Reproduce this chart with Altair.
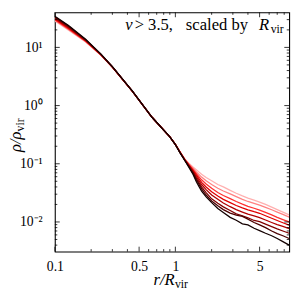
import altair as alt
import pandas as pd

# radii r/R_vir
r_vals = [0.1, 0.13, 0.18, 0.24, 0.3, 0.44, 0.64, 0.9, 1.0, 1.1, 1.2,
          1.3, 1.4, 1.5, 1.65, 1.8, 2.0, 2.25, 2.5, 2.85, 3.2, 3.6, 4.0, 4.5,
          5.0, 5.6, 6.3, 7.0, 7.8, 8.8]

# density profiles rho/rho_vir, lightest (c0) to darkest (c7)
rho_c0 = [28.4, 19.8, 12.4, 7.40, 4.55, 1.75, 0.63, 0.29, 0.216, 0.157, 0.120,
          0.101, 0.088, 0.078, 0.066, 0.058, 0.051, 0.044, 0.040, 0.0350, 0.0312,
          0.0280, 0.0257, 0.0237, 0.0220, 0.0200, 0.0180, 0.0163, 0.0148, 0.0132]
rho_c1 = [29.2, 20.3, 12.6, 7.45, 4.57, 1.75, 0.63, 0.29, 0.216, 0.156, 0.119,
          0.098, 0.084, 0.072, 0.059, 0.051, 0.044, 0.038, 0.034, 0.0303, 0.0272,
          0.0245, 0.0225, 0.0208, 0.0194, 0.0178, 0.0162, 0.0148, 0.0135, 0.0121]
rho_c2 = [30.0, 20.8, 12.8, 7.50, 4.59, 1.76, 0.63, 0.29, 0.215, 0.155, 0.118,
          0.096, 0.080, 0.067, 0.053, 0.045, 0.038, 0.032, 0.0285, 0.0252, 0.0225,
          0.0202, 0.0186, 0.0172, 0.0160, 0.0146, 0.0132, 0.0120, 0.0110, 0.0100]
rho_c3 = [30.9, 21.4, 13.0, 7.55, 4.60, 1.76, 0.63, 0.29, 0.215, 0.155, 0.117,
          0.094, 0.077, 0.063, 0.048, 0.040, 0.033, 0.028, 0.0245, 0.0215, 0.0192,
          0.0175, 0.0162, 0.0150, 0.0141, 0.0128, 0.0116, 0.0106, 0.0097, 0.0088]
rho_c4 = [31.7, 22.0, 13.2, 7.60, 4.62, 1.76, 0.63, 0.29, 0.215, 0.154, 0.116,
          0.092, 0.074, 0.059, 0.044, 0.036, 0.029, 0.0245, 0.0212, 0.0183, 0.0163,
          0.0148, 0.0136, 0.0127, 0.0119, 0.0108, 0.0098, 0.0090, 0.0084, 0.0077]
rho_c5 = [32.6, 22.6, 13.4, 7.65, 4.63, 1.77, 0.63, 0.29, 0.214, 0.153, 0.115,
          0.090, 0.071, 0.055, 0.040, 0.032, 0.025, 0.021, 0.0182, 0.0157, 0.0138,
          0.0128, 0.0118, 0.0106, 0.0101, 0.0092, 0.0083, 0.0076, 0.0070, 0.0064]
rho_c6 = [33.5, 23.1, 13.6, 7.70, 4.65, 1.77, 0.63, 0.29, 0.214, 0.152, 0.114,
          0.088, 0.069, 0.052, 0.037, 0.029, 0.023, 0.0190, 0.0163, 0.0142, 0.0131,
          0.0125, 0.0112, 0.0098, 0.0089, 0.0080, 0.0070, 0.0063, 0.0058, 0.0052]
rho_c7 = [34.4, 23.7, 13.8, 7.75, 4.66, 1.77, 0.63, 0.29, 0.213, 0.151, 0.113,
          0.086, 0.066, 0.048, 0.034, 0.027, 0.0215, 0.0170, 0.0146, 0.0120, 0.0107,
          0.0093, 0.0089, 0.0078, 0.0071, 0.0064, 0.0058, 0.0052, 0.0046, 0.0040]

series_names = ["c0", "c1", "c2", "c3", "c4", "c5", "c6", "c7"]
series_colors = ["#ffb0b0", "#ff8080", "#ff3030", "#e00000", "#b00000", "#800000", "#4a0000", "#140000"]

x_major = [0.1, 0.5, 1, 5]
x_minor = [0.2, 0.3, 0.4, 0.6, 0.7, 0.8, 0.9, 2, 3, 4, 6, 7, 8]
y_major = [10, 1, 0.1, 0.01]
y_minor = [0.004, 0.005, 0.006, 0.007, 0.008, 0.009,
           0.02, 0.03, 0.04, 0.05, 0.06, 0.07, 0.08, 0.09,
           0.2, 0.3, 0.4, 0.5, 0.6, 0.7, 0.8, 0.9,
           2, 3, 4, 5, 6, 7, 8, 9, 20, 30]

all_rho = [rho_c0, rho_c1, rho_c2, rho_c3, rho_c4, rho_c5, rho_c6, rho_c7]
rows = []
for order, (name, arr) in enumerate(zip(series_names, all_rho)):
    assert len(arr) == len(r_vals)
    for rv, yv in zip(r_vals, arr):
        rows.append({"r": rv, "rho": yv, "series": name, "order": order})
df = pd.DataFrame(rows)

W, H = 240, 245
SERIF = "Liberation Serif"
xs = alt.Scale(type="log", domain=[0.1, 8.8], nice=False)
ys = alt.Scale(type="log", domain=[0.0031, 40], nice=False)

lines = alt.Chart(df).mark_line(strokeWidth=1.3, clip=True).encode(
    x=alt.X("r:Q", scale=xs, axis=alt.Axis(values=x_major, format="~g", ticks=False, tickSize=0,
            domain=False, grid=False, labelFont=SERIF, labelFontSize=14, labelColor="black",
            labelPadding=8, labelFlush=False, title=None)),
    y=alt.Y("rho:Q", scale=ys, axis=alt.Axis(values=y_major, ticks=False, tickSize=0,
            labelExpr="datum.value >= 5 ? '10¹' : datum.value >= 0.5 ? '10⁰' : datum.value >= 0.05 ? '10⁻¹' : '10⁻²'",
            domain=False, grid=False, labelFont=SERIF, labelFontSize=14, labelColor="black",
            labelPadding=13, title=None)),
    color=alt.Color("series:N", scale=alt.Scale(domain=series_names, range=series_colors), legend=None),
    order=alt.Order("order:Q"),
)

def xticks(vals, length):
    d = pd.DataFrame({"v": vals})
    base = alt.Chart(d).mark_rule(color="black", strokeWidth=0.8)
    bottom = base.encode(x=alt.X("v:Q", scale=xs), y=alt.value(H), y2=alt.value(H - length))
    top = base.encode(x=alt.X("v:Q", scale=xs), y=alt.value(0), y2=alt.value(length))
    return [bottom, top]

def yticks(vals, length):
    d = pd.DataFrame({"v": vals})
    base = alt.Chart(d).mark_rule(color="black", strokeWidth=0.8)
    left = base.encode(y=alt.Y("v:Q", scale=ys), x=alt.value(0), x2=alt.value(length))
    right = base.encode(y=alt.Y("v:Q", scale=ys), x=alt.value(W), x2=alt.value(W - length))
    return [left, right]

tick_layers = xticks(x_major, 5) + xticks(x_minor, 2.5) + yticks(y_major, 5) + yticks(y_minor, 2.5)

def txt(s, x, y, size=15, italic=False, angle=0, align="left"):
    kw = dict(text=s, font=SERIF, fontSize=size, color="black", align=align, baseline="alphabetic")
    if italic:
        kw["fontStyle"] = "italic"
    if angle:
        kw["angle"] = angle
    return alt.Chart(pd.DataFrame({"a": [0]})).mark_text(**kw).encode(x=alt.value(x), y=alt.value(y))

texts = [
    txt("ν", 72, 18.5, 17, italic=True),
    txt("> 3.5,", 121, 18.5, 17, align="right"),
    txt("scaled by", 166, 18.5, 17, align="center"),
    txt("R", 209, 18.5, 17, italic=True),
    txt("vir", 221, 21.5, 12),
    txt("r/R", 101, 279, 17, italic=True),
    txt("vir", 123, 282, 12),
    txt("ρ/ρ", -35, 143, 17, italic=True, angle=270),
    txt("vir", -32, 122, 12, angle=270),
]

chart = alt.layer(lines, *tick_layers, *texts).properties(
    width=W, height=H,
    autosize=alt.AutoSizeParams(type="none"),
    padding={"left": 48, "top": 1, "right": 8, "bottom": 40},
).configure_view(stroke="black", strokeWidth=1.1)

chart.save("out.html", embed_options={"renderer": "svg", "actions": False})
